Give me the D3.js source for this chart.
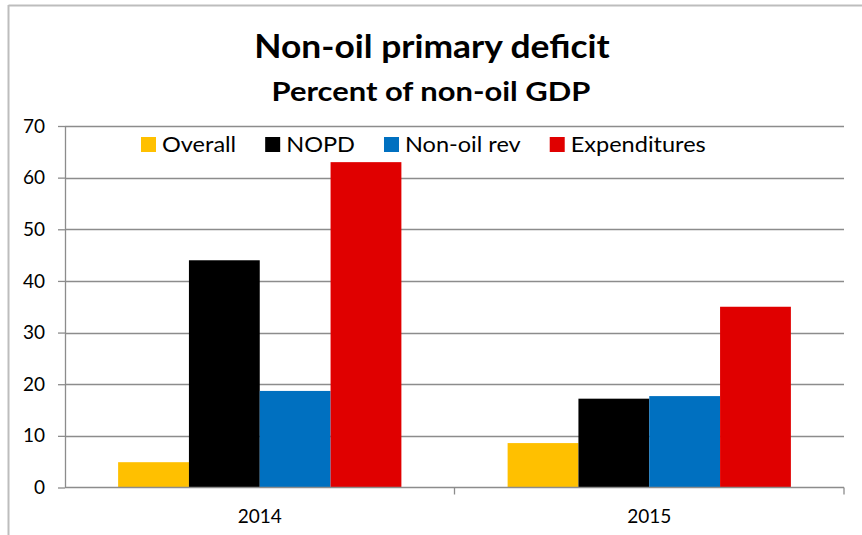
<!DOCTYPE html>
<html>
<head>
<meta charset="utf-8">
<script src="https://cdn.jsdelivr.net/npm/d3@7"></script>
<style>
  html, body { margin: 0; padding: 0; background: #fff; }
  svg { display: block; }
  text { font-family: Lato, "Open Sans", sans-serif; fill: #000; }
</style>
</head>
<body>
<svg id="chart" width="862" height="535"></svg>
<script>
// Chart data
const years = ["2014", "2015"];
const seriesNames = ["Overall", "NOPD", "Non-oil rev", "Expenditures"];
const overall = [4.9, 8.6];
const nopd = [44.0, 17.2];
const nonOilRev = [18.7, 17.7];
const expenditures = [63.0, 35.0];
const yTicks = [0, 10, 20, 30, 40, 50, 60, 70];
const seriesColors = ["#FFC000", "#000000", "#0070C0", "#E00000"];

const seriesValues = [overall, nopd, nonOilRev, expenditures];

const W = 862, H = 535;
const margin = { left: 65, right: 18, top: 126, bottom: 47.5 };
const svg = d3.select("#chart");

// widen a text element horizontally by a factor, keeping its height
function widen(sel, factor) {
  sel.each(function () {
    const len = this.getComputedTextLength();
    d3.select(this).attr("textLength", len * factor).attr("lengthAdjust", "spacingAndGlyphs");
  });
  return sel;
}

// chart frame (top and left edges)
svg.append("line").attr("x1", 8.5).attr("x2", W).attr("y1", 5.5).attr("y2", 5.5)
  .attr("stroke", "#bdbdbd").attr("stroke-width", 2);
svg.append("line").attr("x1", 8.5).attr("x2", 8.5).attr("y1", 5).attr("y2", H)
  .attr("stroke", "#bdbdbd").attr("stroke-width", 2);

// titles
widen(svg.append("text").attr("x", 432).attr("y", 58).attr("text-anchor", "middle")
  .style("font-weight", "bold").style("font-size", "32px")
  .text("Non-oil primary deficit"), 1.105);
widen(svg.append("text").attr("x", 431).attr("y", 101).attr("text-anchor", "middle")
  .style("font-weight", "bold").style("font-size", "27px")
  .text("Percent of non-oil GDP"), 1.145);

const x0 = d3.scaleBand().domain(years)
  .range([margin.left, W - margin.right]).paddingInner(0).paddingOuter(0);
// Excel-style 150% gap: four bars plus 1.5 bar widths of gap per category
const barW = x0.bandwidth() / 5.5;
const x1 = d3.scaleBand().domain(seriesNames)
  .range([barW * 0.75, barW * 4.75]).padding(0);
const y = d3.scaleLinear().domain([0, 70]).range([H - margin.bottom, margin.top]);

// gridlines
svg.append("g").selectAll("line").data(yTicks.filter(d => d > 0)).join("line")
  .attr("x1", margin.left).attr("x2", W - margin.right)
  .attr("y1", d => Math.round(y(d)) + 0.5).attr("y2", d => Math.round(y(d)) + 0.5)
  .attr("stroke", "#8c8c8c").attr("stroke-width", 1.3);

// bars
const groups = svg.append("g").selectAll("g").data(years).join("g")
  .attr("transform", d => `translate(${x0(d)},0)`);
groups.selectAll("rect")
  .data((yr, i) => seriesNames.map((s, k) => ({ s, v: seriesValues[k][i], c: seriesColors[k] })))
  .join("rect")
  .attr("x", d => x1(d.s))
  .attr("width", x1.bandwidth())
  .attr("y", d => y(d.v))
  .attr("height", d => y(0) - y(d.v))
  .attr("fill", d => d.c);

// y axis
const yAxis = svg.append("g").attr("transform", `translate(${margin.left},0)`)
  .call(d3.axisLeft(y).tickValues(yTicks).tickSize(7).tickPadding(13).tickSizeOuter(0));
yAxis.select(".domain").attr("stroke", "#8c8c8c").attr("stroke-width", 1.3);
yAxis.selectAll(".tick line").attr("stroke", "#8c8c8c").attr("stroke-width", 1.3);
yAxis.selectAll(".tick text").style("font-size", "19px").style("font-family", "Lato, sans-serif").attr("fill", "#000");

// x axis with category boundary ticks
const xAxisG = svg.append("g").attr("transform", `translate(0,${y(0)})`);
xAxisG.append("line").attr("x1", margin.left).attr("x2", W - margin.right)
  .attr("stroke", "#8c8c8c").attr("stroke-width", 1.3);
const bounds = years.map(d => x0(d) + x0.bandwidth());
xAxisG.selectAll("line.b").data(bounds).join("line").attr("class", "b")
  .attr("x1", d => d).attr("x2", d => d).attr("y1", 0).attr("y2", 7)
  .attr("stroke", "#8c8c8c").attr("stroke-width", 1.3);
xAxisG.selectAll("text").data(years).join("text")
  .attr("x", d => x0(d) + x0.bandwidth() / 2).attr("y", 35)
  .attr("text-anchor", "middle").style("font-size", "19px").text(d => d);

// legend
const legend = svg.append("g").attr("transform", "translate(141,0)");
let lx = 0;
seriesNames.forEach((name, k) => {
  const g = legend.append("g").attr("transform", `translate(${lx},0)`);
  g.append("rect").attr("x", 0).attr("y", 137).attr("width", 15).attr("height", 15)
    .attr("fill", seriesColors[k]);
  const t = g.append("text").attr("x", 21).attr("y", 152).style("font-size", "21px").text(name);
  const w = t.node().getComputedTextLength() * 1.12;
  t.attr("textLength", w).attr("lengthAdjust", "spacingAndGlyphs");
  lx += 21 + w + 29;
});
</script>
</body>
</html>
